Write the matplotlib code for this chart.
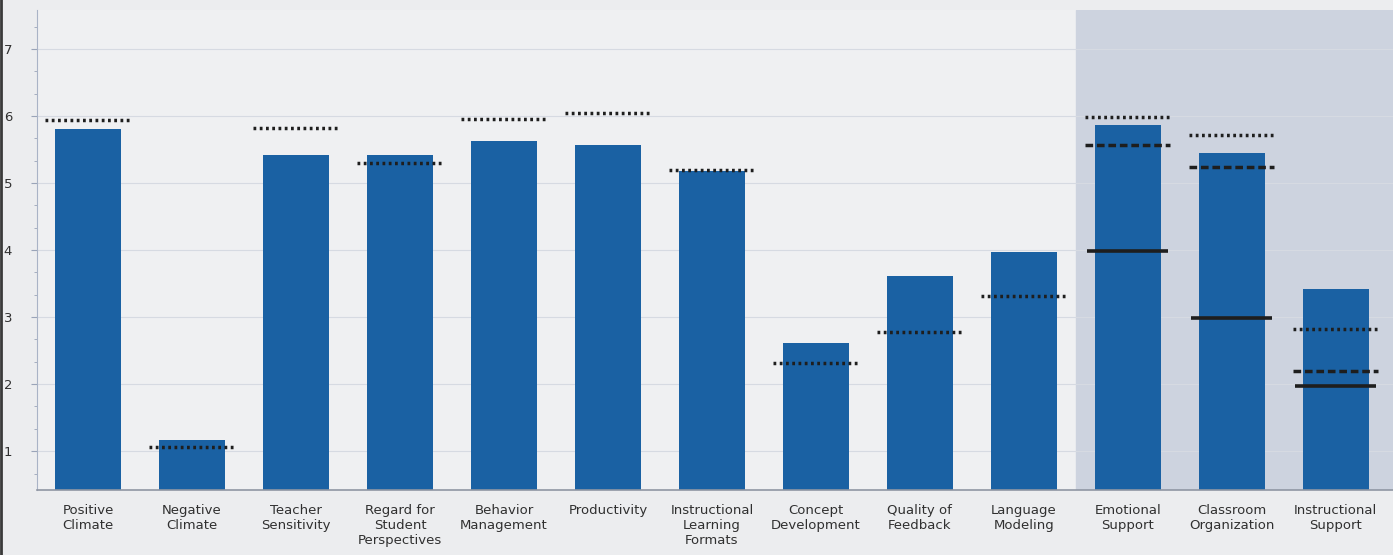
import matplotlib
matplotlib.use('Agg')
import matplotlib.pyplot as plt
import numpy as np
from matplotlib.ticker import MultipleLocator
from matplotlib.lines import Line2D

# Chart data
categories = ['Positive\nClimate', 'Negative\nClimate', 'Teacher\nSensitivity',
              'Regard for\nStudent\nPerspectives', 'Behavior\nManagement', 'Productivity',
              'Instructional\nLearning\nFormats', 'Concept\nDevelopment', 'Quality of\nFeedback',
              'Language\nModeling', 'Emotional\nSupport', 'Classroom\nOrganization',
              'Instructional\nSupport']
scores = [5.81, 1.16, 5.42, 5.42, 5.63, 5.57, 5.18, 2.62, 3.61, 3.97, 5.87, 5.45, 3.42]
# dotted reference marks (one per category)
dotted_marks = [5.94, 1.06, 5.82, 5.30, 5.96, 6.04, 5.19, 2.31, 2.78, 3.31, 5.99, 5.72, 2.82]
# dashed and solid reference marks (domain-level categories only)
domain_idx = [10, 11, 12]
dashed_marks = [5.57, 5.24, 2.19]
solid_marks = [3.99, 2.99, 1.97]

bg = '#ecedef'
bar_color = '#1a61a3'
mark_color = '#1e1e1e'

fig = plt.figure(figsize=(13.93, 5.55), dpi=100, facecolor=bg)
ax = fig.add_axes([0.0266, 0.117, 0.9734, 0.865])
ax.set_facecolor('#eff0f2')

x = np.arange(len(categories))
ax.set_xlim(-0.49, 12.55)
ax.set_ylim(0.42, 7.58)

# shaded domain area
ax.axvspan(9.5, 12.55, color='#cdd3df', zorder=0)

# faint gridlines
for yv in range(1, 8):
    ax.axhline(yv, color='#d6dae2', lw=0.8, zorder=1)

ax.bar(x, scores, width=0.63, bottom=0, color=bar_color, zorder=2)

half = 0.41
for xi, v in zip(x, dotted_marks):
    ax.plot([xi - half, xi + half], [v, v], color=mark_color, lw=2.5,
            linestyle=(0, (0.8, 1.0)), dash_capstyle='butt', zorder=3)
for i, v in zip(domain_idx, dashed_marks):
    ax.plot([i - half, i + half], [v, v], color=mark_color, lw=2.5,
            linestyle=(0, (2.2, 1.1)), dash_capstyle='butt', zorder=3)
for i, v in zip(domain_idx, solid_marks):
    ax.plot([i - 0.39, i + 0.39], [v, v], color=mark_color, lw=2.6,
            solid_capstyle='butt', zorder=3)

ax.set_xticks(x)
ax.set_xticklabels(categories, fontsize=9.5, color='#303030', linespacing=1.2)
ax.tick_params(axis='x', length=0, pad=10)
ax.yaxis.set_major_locator(MultipleLocator(1))
ax.yaxis.set_minor_locator(MultipleLocator(1 / 3))
ax.tick_params(axis='y', which='major', length=4, color='#9aa4b8', labelsize=9.5,
               labelcolor='#303030', pad=14)
ax.tick_params(axis='y', which='minor', length=2, color='#9aa4b8')
ax.set_yticks(range(1, 8))

for s in ['top', 'right']:
    ax.spines[s].set_visible(False)
ax.spines['left'].set_color('#a9b3c6')
ax.spines['bottom'].set_color('#8f96a3')
ax.spines['bottom'].set_linewidth(1.2)

# dark left border of the screenshot
fig.add_artist(Line2D([0.001, 0.001], [0, 1], transform=fig.transFigure,
                      color='#3a3a3a', lw=2))

fig.savefig('out.png', dpi=100, facecolor=bg)
